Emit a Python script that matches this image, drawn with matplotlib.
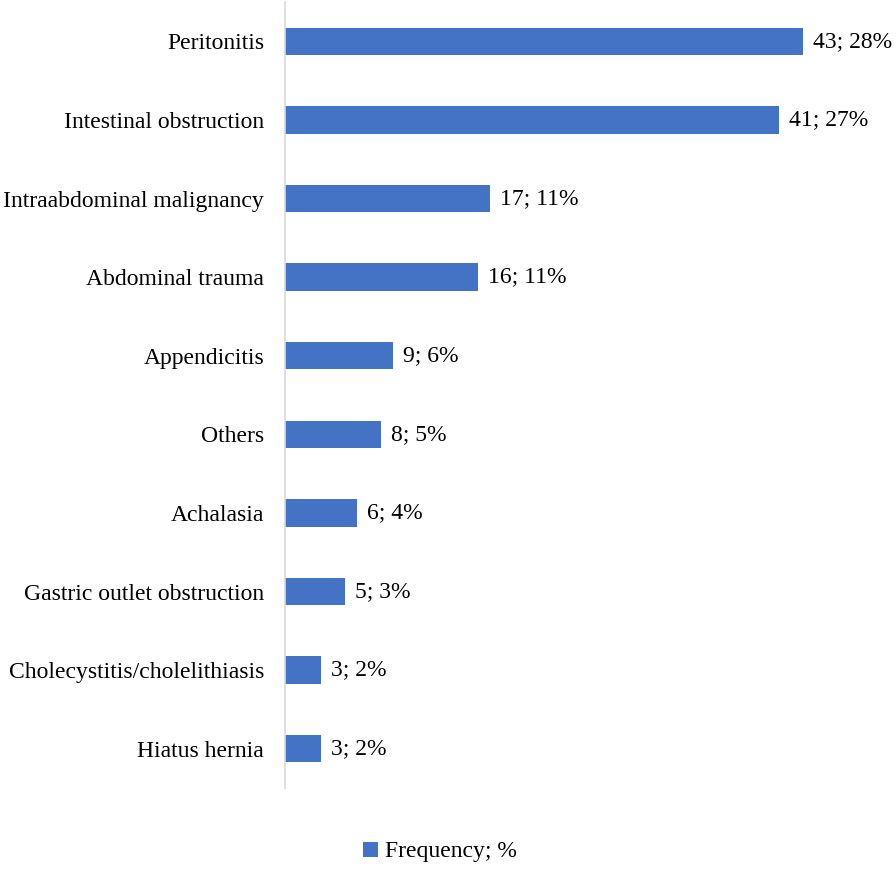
import matplotlib.pyplot as plt

# data
causes = ['Peritonitis', 'Intestinal obstruction', 'Intraabdominal malignancy',
          'Abdominal trauma', 'Appendicitis', 'Others', 'Achalasia',
          'Gastric outlet obstruction', 'Cholecystitis/cholelithiasis', 'Hiatus hernia']
freq = [43, 41, 17, 16, 9, 8, 6, 5, 3, 3]
pct = [28, 27, 11, 11, 6, 5, 4, 3, 2, 2]

plt.rcParams['font.family'] = ['Liberation Serif', 'DejaVu Serif']
fs = 17

W, H = 896, 873
fig = plt.figure(figsize=(W / 100, H / 100), dpi=100)
# axes placed in pixels: left edge 285, top 2, bottom 788
ax = fig.add_axes([285 / W, 1 - 788 / H, 595 / W, 786 / H])

ypos = list(range(len(causes)))
bars = ax.barh(ypos, freq, height=0.35, color='#4472C4', label='Frequency; %')

for b, f, p in zip(bars, freq, pct):
    ax.annotate('{}; {}%'.format(f, p), (b.get_width(), b.get_y() + b.get_height() / 2),
                xytext=(7, 0), textcoords='offset points', va='center', ha='left',
                fontsize=fs, color='black')

ax.set_yticks(ypos)
ax.set_yticklabels(causes, fontsize=fs)
ax.set_ylim(len(causes) - 0.5, -0.5)
ax.set_xlim(0, 595 / 12.05)
ax.set_xticks([])
ax.tick_params(axis='y', length=0, pad=15)
for s in ['top', 'right', 'bottom']:
    ax.spines[s].set_visible(False)
ax.spines['left'].set_color('#D9D9D9')
ax.spines['left'].set_linewidth(1.2)

fig.legend(loc='center', bbox_to_anchor=(440 / W, 1 - 852 / H), frameon=False,
           fontsize=fs, handlelength=0.6, handleheight=0.6, handletextpad=0.3)

fig.savefig('out.png', dpi=100)
